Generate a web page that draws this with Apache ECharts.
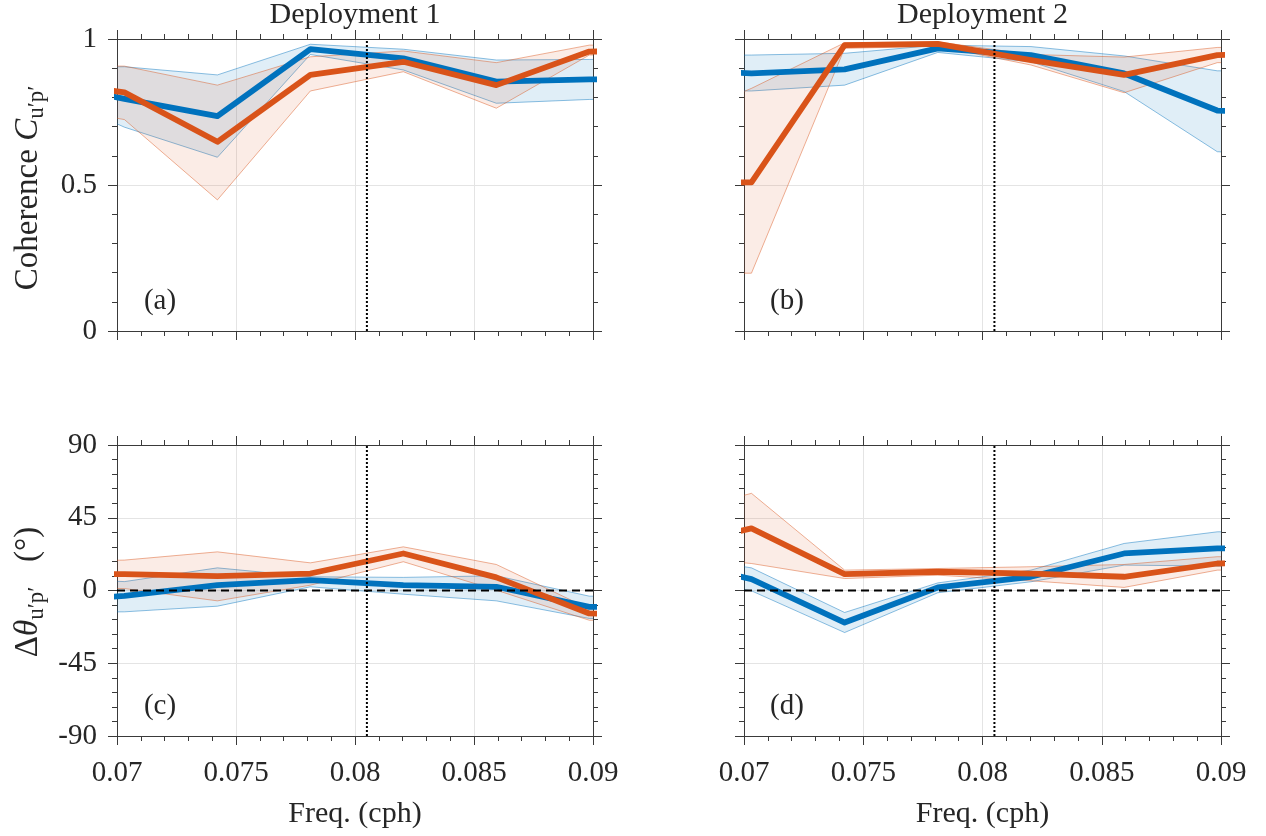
<!DOCTYPE html>
<html>
<head>
<meta charset="utf-8">
<script src="https://cdn.jsdelivr.net/npm/echarts@6/dist/echarts.min.js"></script>
<style>
  html, body { margin: 0; padding: 0; background: #ffffff; }
  #chart { width: 1266px; height: 836px; }
</style>
</head>
<body>
<div id="chart"></div>
<script>
// Spectral bins (cph); first and last bins sit just outside the plotted band.
const FREQ = [0.06640625, 0.0703125, 0.07421875, 0.078125, 0.08203125, 0.0859375, 0.08984375, 0.09375];
const M2_FREQ = 0.0805;

// Deployment 1 coherence
const d1CohBlue     = [0.86, 0.795, 0.736, 0.965, 0.934, 0.854, 0.862, 0.862];
const d1CohBlueLo   = [0.84, 0.698, 0.595, 0.947, 0.894, 0.780, 0.793, 0.793];
const d1CohBlueHi   = [0.90, 0.905, 0.877, 0.982, 0.965, 0.928, 0.930, 0.930];
const d1CohOrange   = [0.86, 0.817, 0.648, 0.877, 0.922, 0.842, 0.957, 0.960];
const d1CohOrangeLo = [0.78, 0.724, 0.449, 0.822, 0.888, 0.763, 0.945, 0.945];
const d1CohOrangeHi = [0.91, 0.907, 0.842, 0.939, 0.959, 0.919, 0.979, 0.980];

// Deployment 2 coherence
const d2CohBlue     = [0.90, 0.882, 0.896, 0.968, 0.945, 0.882, 0.755, 0.740];
const d2CohBlueLo   = [0.822, 0.822, 0.842, 0.954, 0.922, 0.820, 0.614, 0.600];
const d2CohBlueHi   = [0.945, 0.945, 0.951, 0.979, 0.974, 0.942, 0.891, 0.890];
const d2CohOrange   = [0.509, 0.509, 0.979, 0.983, 0.928, 0.877, 0.945, 0.950];
const d2CohOrangeLo = [0.198, 0.198, 0.968, 0.975, 0.911, 0.816, 0.919, 0.920];
const d2CohOrangeHi = [0.70, 0.831, 0.987, 0.990, 0.947, 0.938, 0.971, 0.975];

// Deployment 1 phase difference (degrees)
const d1PhBlue     = [-8, -3.3, 3.3, 6.4, 3.3, 2.3, -10.1, -11];
const d1PhBlueLo   = [-13.5, -13.2, -9.7, 2.3, -2.3, -6.4, -17.3, -17.5];
const d1PhBlueHi   = [8, 5.5, 14.0, 8.5, 8.1, 9.1, -3.5, -4];
const d1PhOrange   = [10, 10.1, 8.9, 10.5, 22.9, 8.1, -14.2, -15];
const d1PhOrangeLo = [2, 1.2, -6.4, 3.3, 17.8, 0.2, -18.4, -19];
const d1PhOrangeHi = [18, 18.8, 23.9, 17.1, 27.0, 16.1, -11.3, -12];

// Deployment 2 phase difference (degrees)
const d2PhBlue     = [20, 7.0, -19.8, 1.9, 8.5, 22.9, 26.0, 26.5];
const d2PhBlueLo   = [9, -0.2, -26.0, -1.4, 5.4, 15.7, 15.1, 15];
const d2PhBlueHi   = [23, 14.0, -13.6, 4.7, 12.6, 29.1, 36.3, 37];
const d2PhOrange   = [25, 38.4, 10.1, 11.6, 10.5, 8.5, 16.7, 17];
const d2PhOrangeLo = [22, 16.7, 7.4, 9.5, 6.0, 1.9, 12.6, 13];
const d2PhOrangeHi = [45, 60.1, 12.6, 13.6, 14.7, 16.1, 20.9, 21];

// Tick labels
const X_TICKS = [0.07, 0.075, 0.08, 0.085, 0.09];
const X_TICK_LABELS = ['0.07', '0.075', '0.08', '0.085', '0.09'];
const COH_TICKS = [0, 0.5, 1];
const COH_TICK_LABELS = ['0', '0.5', '1'];
const PH_TICKS = [-90, -45, 0, 45, 90];
const PH_TICK_LABELS = ['-90', '-45', '0', '45', '90'];

const TITLES = ['Deployment 1', 'Deployment 2'];
const PANEL_LETTERS = ['(a)', '(b)', '(c)', '(d)'];

// Styling
const FONT = '"Liberation Serif", "Times New Roman", serif';
const TEXT_COLOR = '#262626';
const AXIS_COLOR = '#3a3a3a';
const GRID_COLOR = '#e4e4e4';
const BLUE = '#0072BD';
const ORANGE = '#D95319';
const BLUE_FILL = 'rgba(0,114,189,0.12)';
const ORANGE_FILL = 'rgba(217,83,25,0.11)';
const BLUE_EDGE = 'rgba(0,114,189,0.45)';
const ORANGE_EDGE = 'rgba(217,83,25,0.45)';

const GRIDS = [
  { left: 117, top: 39, width: 476, height: 292 },
  { left: 744, top: 39, width: 477, height: 292 },
  { left: 117, top: 445, width: 476, height: 291 },
  { left: 744, top: 445, width: 477, height: 291 }
];

const PANELS = [
  { kind: 'coh', blue: [d1CohBlue, d1CohBlueLo, d1CohBlueHi], orange: [d1CohOrange, d1CohOrangeLo, d1CohOrangeHi], xLabels: false, yLabels: true },
  { kind: 'coh', blue: [d2CohBlue, d2CohBlueLo, d2CohBlueHi], orange: [d2CohOrange, d2CohOrangeLo, d2CohOrangeHi], xLabels: false, yLabels: false },
  { kind: 'ph',  blue: [d1PhBlue, d1PhBlueLo, d1PhBlueHi],   orange: [d1PhOrange, d1PhOrangeLo, d1PhOrangeHi],   xLabels: true,  yLabels: true },
  { kind: 'ph',  blue: [d2PhBlue, d2PhBlueLo, d2PhBlueHi],   orange: [d2PhOrange, d2PhOrangeLo, d2PhOrangeHi],   xLabels: true,  yLabels: false }
];

function labelFor(ticks, labels, v) {
  let best = 0;
  for (let i = 1; i < ticks.length; i++) {
    if (Math.abs(ticks[i] - v) < Math.abs(ticks[best] - v)) best = i;
  }
  return labels[best];
}

const tickCommon = {
  axisLine: { show: true, onZero: false, lineStyle: { color: AXIS_COLOR, width: 1 } },
  axisTick: { show: true, inside: false, length: 9, lineStyle: { color: AXIS_COLOR, width: 1 } },
  minorTick: { show: true, splitNumber: 5, length: 5, lineStyle: { color: AXIS_COLOR, width: 1 } },
  minorSplitLine: { show: false }
};

const xAxes = [], yAxes = [], series = [];

PANELS.forEach((p, gi) => {
  const xBase = Object.assign({ type: 'value', gridIndex: gi, min: X_TICKS[0], max: X_TICKS[X_TICKS.length - 1], interval: 0.005 }, tickCommon);
  xAxes.push(Object.assign({}, xBase, {
    position: 'bottom',
    axisLabel: {
      show: p.xLabels, margin: 23, fontFamily: FONT, fontSize: 29, color: TEXT_COLOR,
      showMinLabel: true, showMaxLabel: true,
      formatter: v => labelFor(X_TICKS, X_TICK_LABELS, v)
    },
    splitLine: { show: true, lineStyle: { color: GRID_COLOR, width: 1 } }
  }));
  xAxes.push(Object.assign({}, xBase, {
    position: 'top', axisLabel: { show: false }, splitLine: { show: false }
  }));

  const coh = p.kind === 'coh';
  const ticks = coh ? COH_TICKS : PH_TICKS;
  const labels = coh ? COH_TICK_LABELS : PH_TICK_LABELS;
  const yMin = ticks[0], yMax = ticks[ticks.length - 1];
  const yBase = Object.assign({
    type: 'value', gridIndex: gi, min: yMin, max: yMax, interval: ticks[1] - ticks[0]
  }, tickCommon);
  yAxes.push(Object.assign({}, yBase, {
    position: 'left',
    axisLabel: {
      show: p.yLabels, margin: 20, fontFamily: FONT, fontSize: 29, color: TEXT_COLOR,
      showMinLabel: true, showMaxLabel: true,
      formatter: v => labelFor(ticks, labels, v)
    },
    splitLine: { show: true, lineStyle: { color: GRID_COLOR, width: 1 } }
  }));
  yAxes.push(Object.assign({}, yBase, {
    position: 'right', axisLabel: { show: false }, splitLine: { show: false }
  }));

  const xi = 2 * gi, yi = 2 * gi;

  // Confidence band: filled polygon between lower and upper bounds, with thin edges
  function band(lo, hi, fill, edge, z) {
    return {
      type: 'custom', xAxisIndex: xi, yAxisIndex: yi, clip: true, silent: true, z: z,
      animation: false,
      data: FREQ.map((f, i) => [f, lo[i], hi[i]]),
      encode: { x: 0, y: [1, 2] },
      renderItem: function (params, api) {
        if (params.dataIndex !== 0) return null;
        const upper = FREQ.map((f, i) => api.coord([f, hi[i]]));
        const lower = FREQ.map((f, i) => api.coord([f, lo[i]]));
        return {
          type: 'group',
          children: [
            { type: 'polygon', shape: { points: upper.concat(lower.slice().reverse()) }, style: { fill: fill, stroke: null } },
            { type: 'polyline', shape: { points: upper }, style: { fill: null, stroke: edge, lineWidth: 1 } },
            { type: 'polyline', shape: { points: lower }, style: { fill: null, stroke: edge, lineWidth: 1 } }
          ]
        };
      }
    };
  }

  function curve(vals, color, z) {
    return {
      type: 'line', xAxisIndex: xi, yAxisIndex: yi, z: z, silent: true, animation: false,
      data: FREQ.map((f, i) => [f, vals[i]]),
      symbol: 'none', showSymbol: false,
      lineStyle: { color: color, width: 5.8, join: 'round' },
      itemStyle: { color: color }
    };
  }

  function refLine(data, dash, width) {
    return {
      type: 'line', xAxisIndex: xi, yAxisIndex: yi, z: 6, silent: true, animation: false,
      data: data, symbol: 'none', showSymbol: false,
      lineStyle: { color: '#000000', type: dash, width: width }
    };
  }

  series.push(band(p.blue[1], p.blue[2], BLUE_FILL, BLUE_EDGE, 1));
  series.push(band(p.orange[1], p.orange[2], ORANGE_FILL, ORANGE_EDGE, 1));
  series.push(curve(p.blue[0], BLUE, 3));
  series.push(curve(p.orange[0], ORANGE, 4));

  // M2 tidal frequency (dotted) and zero phase (dashed)
  series.push(refLine([[M2_FREQ, yMin], [M2_FREQ, yMax]], [2, 2], 2));
  if (!coh) series.push(refLine([[X_TICKS[0], 0], [X_TICKS[X_TICKS.length - 1], 0]], [8, 5], 1.8));
});

const graphic = [];
TITLES.forEach((t, i) => {
  const g = GRIDS[i];
  graphic.push({ type: 'text', x: g.left + g.width / 2, y: 15,
    style: { text: t, fontFamily: FONT, fontSize: 30, fill: TEXT_COLOR, align: 'center', verticalAlign: 'middle' } });
});
[2, 3].forEach(i => {
  const g = GRIDS[i];
  graphic.push({ type: 'text', x: g.left + g.width / 2, y: 814,
    style: { text: 'Freq. (cph)', fontFamily: FONT, fontSize: 30, fill: TEXT_COLOR, align: 'center', verticalAlign: 'middle' } });
});
PANEL_LETTERS.forEach((t, i) => {
  const g = GRIDS[i];
  graphic.push({ type: 'text', x: g.left + 43, y: g.top + g.height - 30,
    style: { text: t, fontFamily: FONT, fontSize: 29, fill: TEXT_COLOR, align: 'center', verticalAlign: 'middle' } });
});

const yLabelRich = {
  m: { fontFamily: FONT, fontSize: 33, lineHeight: 40, fill: TEXT_COLOR },
  i: { fontFamily: FONT, fontSize: 33, fontStyle: 'italic', lineHeight: 40, fill: TEXT_COLOR },
  s: { fontFamily: FONT, fontSize: 23, lineHeight: 23, verticalAlign: 'bottom', fill: TEXT_COLOR }
};
graphic.push({ type: 'text', x: 28, y: 188, rotation: Math.PI / 2,
  style: { text: '{m|Coherence }{i|C}{s|u\u2032p\u2032}', rich: yLabelRich, align: 'center', verticalAlign: 'middle' } });
graphic.push({ type: 'text', x: 28, y: 592, rotation: Math.PI / 2,
  style: { text: '{m|\u0394}{i|\u03b8}{s|u\u2032p\u2032}{m|\u2002 (\u00b0)}', rich: yLabelRich, align: 'center', verticalAlign: 'middle' } });

const chart = echarts.init(document.getElementById('chart'), null, { renderer: 'canvas' });
chart.setOption({
  animation: false,
  backgroundColor: '#ffffff',
  grid: GRIDS.map(g => Object.assign({ containLabel: false }, g)),
  xAxis: xAxes,
  yAxis: yAxes,
  series: series,
  graphic: graphic
});
</script>
</body>
</html>
